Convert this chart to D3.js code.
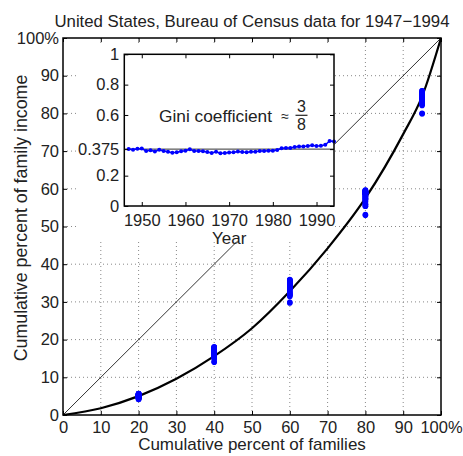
<!DOCTYPE html>
<html>
<head>
<meta charset="utf-8">
<script src="https://cdn.jsdelivr.net/npm/d3@7"></script>
<style>
  body { margin: 0; background: #fff; }
  text { font-family: "Liberation Sans", Arial, Helvetica, sans-serif; fill: #222; }
</style>
</head>
<body>
<div id="chart"></div>
<script>
// Census family income data 1947-1994
const years = [1947, 1948, 1949, 1950, 1951, 1952, 1953, 1954, 1955, 1956, 1957, 1958,
  1959, 1960, 1961, 1962, 1963, 1964, 1965, 1966, 1967, 1968, 1969, 1970, 1971, 1972,
  1973, 1974, 1975, 1976, 1977, 1978, 1979, 1980, 1981, 1982, 1983, 1984, 1985, 1986,
  1987, 1988, 1989, 1990, 1991, 1992, 1993, 1994];
const gini = [0.376, 0.371, 0.378, 0.379, 0.363, 0.368, 0.359, 0.371, 0.363, 0.358, 0.351, 0.354,
  0.361, 0.364, 0.374, 0.362, 0.362, 0.361, 0.356, 0.349, 0.358, 0.348, 0.349, 0.353, 0.355, 0.359,
  0.356, 0.355, 0.357, 0.358, 0.363, 0.363, 0.365, 0.365, 0.369, 0.380, 0.382, 0.383, 0.389, 0.392,
  0.393, 0.395, 0.401, 0.396, 0.397, 0.403, 0.429, 0.426];
// income share (%) of each fifth, and of the top 5%
const shareLowest = [5.0, 4.9, 4.5, 4.5, 5.0, 4.9, 4.7, 4.5, 4.8, 5.0, 5.1, 5.0,
  4.9, 4.8, 4.7, 5.0, 5.0, 5.1, 5.2, 5.6, 5.4, 5.6, 5.6, 5.4, 5.5, 5.4,
  5.5, 5.7, 5.6, 5.6, 5.5, 5.4, 5.4, 5.3, 5.3, 5.0, 4.9, 4.8, 4.8, 4.7,
  4.7, 4.6, 4.6, 4.6, 4.5, 4.4, 4.1, 4.2];
const shareSecond = [11.9, 12.1, 11.9, 12.0, 12.4, 12.3, 12.5, 12.1, 12.3, 12.5, 12.7, 12.5,
  12.3, 12.2, 11.9, 12.1, 12.1, 12.0, 12.2, 12.4, 12.2, 12.4, 12.4, 12.2, 12.0, 11.9,
  11.9, 12.0, 11.9, 11.9, 11.7, 11.7, 11.6, 11.6, 11.4, 11.3, 11.2, 11.1, 11.0, 10.9,
  10.8, 10.7, 10.6, 10.8, 10.7, 10.5, 9.9, 10.0];
const shareThird = [17.0, 17.3, 17.3, 17.4, 17.6, 17.4, 18.0, 17.7, 17.8, 17.9, 18.1, 18.0,
  17.9, 17.8, 17.5, 17.6, 17.7, 17.7, 17.8, 17.8, 17.5, 17.7, 17.7, 17.6, 17.6, 17.5,
  17.5, 17.6, 17.7, 17.7, 17.6, 17.6, 17.5, 17.6, 17.5, 17.2, 17.2, 17.1, 16.9, 16.9,
  16.9, 16.7, 16.5, 16.6, 16.6, 16.5, 15.7, 15.7];
const shareFourth = [23.1, 23.2, 23.5, 23.4, 23.4, 23.4, 23.9, 24.0, 23.7, 23.7, 23.8, 23.9,
  23.8, 24.0, 23.8, 24.0, 24.0, 24.0, 23.9, 23.8, 23.5, 23.7, 23.7, 23.8, 23.8, 23.9,
  24.0, 24.1, 24.2, 24.2, 24.3, 24.4, 24.1, 24.4, 24.6, 24.4, 24.5, 24.5, 24.3, 24.1,
  24.1, 24.0, 23.7, 23.8, 24.1, 24.0, 23.3, 23.3];
const shareTop5 = [17.5, 17.1, 16.9, 17.3, 16.8, 17.4, 15.7, 16.3, 16.8, 16.3, 15.6, 15.4,
  15.9, 15.9, 16.6, 15.7, 15.8, 15.9, 15.5, 14.8, 15.2, 14.0, 14.0, 14.4, 14.8, 15.9,
  15.5, 14.8, 14.9, 14.9, 15.1, 15.1, 15.3, 14.6, 14.4, 15.6, 15.5, 15.7, 16.1, 16.7,
  16.9, 17.2, 17.9, 17.4, 17.1, 17.6, 20.0, 20.1];

// fitted Lorenz curve
const lorenzX = [0, 10, 20, 30, 40, 50, 60, 70, 80, 90, 95, 100];
const lorenzY = [0, 1.8, 5.0, 9.6, 15.6, 23.0, 32.8, 44.2, 57.5, 74.5, 84.5, 100];

const pctTicks = [0, 10, 20, 30, 40, 50, 60, 70, 80, 90, 100];
const yearTicks = [1950, 1960, 1970, 1980, 1990];
const giniTicks = [0, 0.2, 0.375, 0.6, 0.8, 1];
const giniRef = 0.375;

const width = 463, height = 456;
const svg = d3.select("#chart").append("svg")
  .attr("width", width).attr("height", height);

const x = d3.scaleLinear().domain([0, 100]).range([63, 441]);
const y = d3.scaleLinear().domain([0, 100]).range([415, 38]);

// grid
svg.append("g").selectAll("line").data(pctTicks.slice(1, -1)).join("line")
  .attr("x1", d => x(d)).attr("x2", d => x(d))
  .attr("y1", y(0)).attr("y2", y(100))
  .attr("stroke", "#888").attr("stroke-width", 1).attr("stroke-dasharray", "1,3");
svg.append("g").selectAll("line").data(pctTicks.slice(1, -1)).join("line")
  .attr("y1", d => y(d)).attr("y2", d => y(d))
  .attr("x1", x(0)).attr("x2", x(100))
  .attr("stroke", "#888").attr("stroke-width", 1).attr("stroke-dasharray", "1,3");

// line of equality (hidden behind the inset)
svg.append("line")
  .attr("x1", x(0)).attr("y1", y(0)).attr("x2", x(100)).attr("y2", y(100))
  .attr("stroke", "#000").attr("stroke-width", 0.8);

// inset background
svg.append("rect").attr("x", 76).attr("y", 45).attr("width", 258.5).attr("height", 196.5)
  .attr("fill", "#fff");

// Lorenz curve
const lorenzLine = d3.line()
  .x(d => x(d[0])).y(d => y(d[1]))
  .curve(d3.curveMonotoneX);
svg.append("path")
  .datum(lorenzX.map((v, i) => [v, lorenzY[i]]))
  .attr("d", lorenzLine)
  .attr("fill", "none").attr("stroke", "#000").attr("stroke-width", 2.2);

// cumulative shares per year
const points = [];
years.forEach((yr, i) => {
  const c20 = shareLowest[i];
  const c40 = c20 + shareSecond[i];
  const c60 = c40 + shareThird[i];
  const c80 = c60 + shareFourth[i];
  points.push([20, c20], [40, c40], [60, c60], [80, c80], [95, 100 - shareTop5[i]]);
});
svg.append("g").selectAll("circle").data(points).join("circle")
  .attr("cx", d => x(d[0])).attr("cy", d => y(d[1]))
  .attr("r", 2.8).attr("fill", "#0000ff");

// main axes
const pctFmt = d => d === 100 ? "100%" : d;
svg.append("g").attr("transform", `translate(0,${y(0)})`)
  .call(d3.axisBottom(x).tickValues(pctTicks).tickFormat(pctFmt).tickSize(-4).tickSizeOuter(0).tickPadding(6));
svg.append("g").attr("transform", `translate(0,${y(100)})`)
  .call(d3.axisTop(x).tickValues(pctTicks).tickFormat("").tickSize(-4).tickSizeOuter(0));
svg.append("g").attr("transform", `translate(${x(0)},0)`)
  .call(d3.axisLeft(y).tickValues(pctTicks).tickFormat(pctFmt).tickSize(-4).tickSizeOuter(0).tickPadding(4));
svg.append("g").attr("transform", `translate(${x(100)},0)`)
  .call(d3.axisRight(y).tickValues(pctTicks).tickFormat("").tickSize(-4).tickSizeOuter(0));

svg.append("rect")
  .attr("x", x(0)).attr("y", y(100))
  .attr("width", x(100) - x(0)).attr("height", y(0) - y(100))
  .attr("fill", "none").attr("stroke", "#000").attr("stroke-width", 1.5);

svg.append("text").attr("x", (x(0) + x(100)) / 2).attr("y", 26.5)
  .attr("text-anchor", "middle").attr("font-size", "16.8px")
  .text("United States, Bureau of Census data for 1947\u22121994");
svg.append("text").attr("x", (x(0) + x(100)) / 2).attr("y", 450)
  .attr("text-anchor", "middle").attr("font-size", "17px")
  .text("Cumulative percent of families");
svg.append("text").attr("transform", "translate(27,218) rotate(-90)")
  .attr("text-anchor", "middle").attr("font-size", "17.8px")
  .text("Cumulative percent of family income");

// inset
const ix = d3.scaleLinear().domain([1946, 1994]).range([124.3, 334]);
const iy = d3.scaleLinear().domain([0, 1]).range([206, 54.3]);

svg.append("line")
  .attr("x1", ix(1946)).attr("x2", ix(1994))
  .attr("y1", iy(giniRef)).attr("y2", iy(giniRef))
  .attr("stroke", "#333").attr("stroke-width", 1);

const giniLine = d3.line().x((d, i) => ix(years[i])).y(d => iy(d));
svg.append("path").datum(gini).attr("d", giniLine)
  .attr("fill", "none").attr("stroke", "#0000ff").attr("stroke-width", 1.5);
svg.append("g").selectAll("circle").data(gini).join("circle")
  .attr("cx", (d, i) => ix(years[i])).attr("cy", d => iy(d))
  .attr("r", 2).attr("fill", "#0000ff");

svg.append("g").attr("transform", `translate(0,${iy(0)})`)
  .call(d3.axisBottom(ix).tickValues(yearTicks).tickFormat(d => d).tickSize(-4).tickSizeOuter(0).tickPadding(8));
svg.append("g").attr("transform", `translate(0,${iy(1)})`)
  .call(d3.axisTop(ix).tickValues(yearTicks).tickFormat("").tickSize(-4).tickSizeOuter(0));
svg.append("g").attr("transform", `translate(${ix(1946)},0)`)
  .call(d3.axisLeft(iy).tickValues(giniTicks).tickFormat(d => d).tickSize(-4).tickSizeOuter(0).tickPadding(5));
svg.append("g").attr("transform", `translate(${ix(1994)},0)`)
  .call(d3.axisRight(iy).tickValues(giniTicks).tickFormat("").tickSize(-4).tickSizeOuter(0));

svg.append("rect")
  .attr("x", ix(1946)).attr("y", iy(1))
  .attr("width", ix(1994) - ix(1946)).attr("height", iy(0) - iy(1))
  .attr("fill", "none").attr("stroke", "#000").attr("stroke-width", 1.5);

svg.append("text").attr("x", (ix(1946) + ix(1994)) / 2).attr("y", 243.5)
  .attr("text-anchor", "middle").attr("font-size", "17px").text("Year");

svg.append("text").attr("x", 159).attr("y", 121.7)
  .attr("font-size", "17.3px").text("Gini coefficient");
svg.append("text").attr("x", 285).attr("y", 121)
  .attr("text-anchor", "middle").attr("font-size", "14px").text("\u2248");
svg.append("text").attr("x", 301.5).attr("y", 111.7)
  .attr("text-anchor", "middle").attr("font-size", "16px").text("3");
svg.append("line").attr("x1", 295.5).attr("x2", 307.5).attr("y1", 115.3).attr("y2", 115.3)
  .attr("stroke", "#222").attr("stroke-width", 1.2);
svg.append("text").attr("x", 301.5).attr("y", 130)
  .attr("text-anchor", "middle").attr("font-size", "16px").text("8");

// tick label styling
svg.selectAll(".tick text").attr("font-size", "16.5px").attr("fill", "#222")
  .attr("font-family", "'Liberation Sans', Arial, sans-serif");
svg.selectAll(".tick line").attr("stroke", "#000");
svg.selectAll(".domain").remove();
</script>
</body>
</html>
